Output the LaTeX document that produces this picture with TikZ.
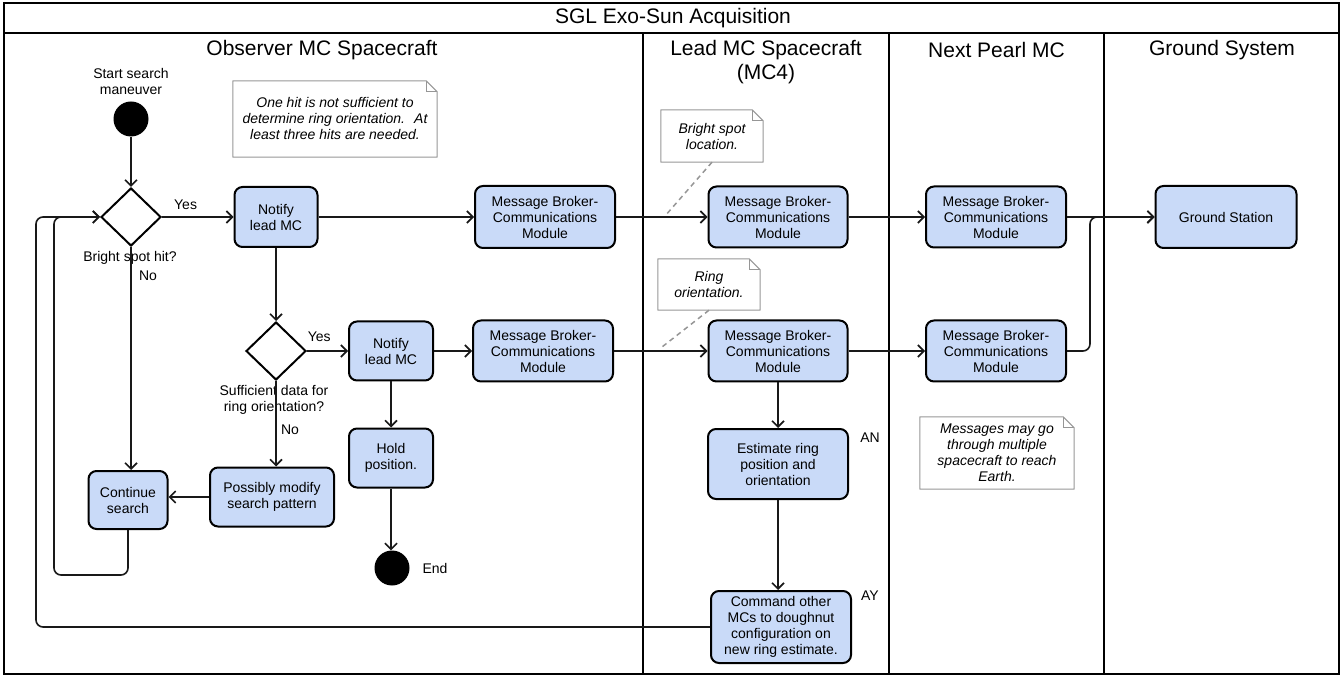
\documentclass[tikz,border=0pt]{standalone}
\usepackage{fontspec}
\setmainfont{Liberation Sans}
\usetikzlibrary{arrows.meta,calc,shapes.geometric}
\definecolor{boxfill}{RGB}{201,218,248}
\definecolor{notegray}{RGB}{150,150,150}
\definecolor{inkline}{RGB}{25,25,25}

\tikzset{
  act/.style={draw=black, line width=2pt, fill=boxfill, rounded corners=8pt,
    align=center, inner sep=0pt, font=\fontsize{14}{16}\selectfont},
  decision/.style={diamond, draw=black, line width=2pt, fill=white,
    minimum width=60pt, minimum height=58pt, inner sep=0pt},
  terminal/.style={circle, fill=black, minimum size=35pt, inner sep=0pt},
  lbl/.style={align=center, inner sep=0pt, font=\fontsize{14}{16}\selectfont},
  hdr/.style={align=center, inner sep=0pt, font=\fontsize{21}{24}\selectfont},
  notebox/.style={align=center, inner sep=0pt, font=\itshape\fontsize{14}{16}\selectfont},
  flow/.style={draw=inkline, line width=1.6pt, -{Straight Barb[length=6pt,width=12pt]}},
  notelink/.style={draw=notegray, line width=1.5pt, dash pattern=on 5pt off 4pt},
  lane/.style={draw=black, line width=1.6pt},
}

% outline of a note with a folded top-right corner
\newcommand\foldnote[1]{%
  \draw[notegray, line width=1pt, line join=round]
    (#1.south west) -- (#1.south east) -- ([yshift=-11pt]#1.north east)
    -- ([xshift=-11pt]#1.north east) -- (#1.north west) -- cycle;
  \draw[notegray, line width=1pt]
    ([xshift=-11pt]#1.north east) -- ([xshift=-11pt,yshift=-11pt]#1.north east)
    -- ([yshift=-11pt]#1.north east);
}

\begin{document}
\begin{tikzpicture}[x=1pt,y=-1pt]
\useasboundingbox (0,0) rectangle (1342,676);

% pool frame, title bar and lanes
\draw[lane] (4,3) rectangle (1339,674);
\draw[lane] (4,33) -- (1339,33);
\draw[lane] (643,33) -- (643,674);
\draw[lane] (889,33) -- (889,674);
\draw[lane] (1104,33) -- (1104,674);

\node[hdr] (title) at (673,18) {SGL Exo-Sun Acquisition};
\node[hdr] (hobs) at (322,50) {Observer MC Spacecraft};
\node[hdr] (hlead) at (766,62) {Lead MC Spacecraft\\(MC4)};
\node[hdr] (hnext) at (996.5,50) {Next Pearl MC};
\node[hdr] (hground) at (1222,50) {Ground System};

% observer spacecraft activities
\node[lbl] (startlbl) at (131,81) {Start search\\maneuver};
\node[terminal] (start) at (131,119) {};
\node[decision] (d1) at (131,217) {};
\node[lbl] (d1q) at (130,258) {Bright spot hit?};
\node[act, minimum width=83pt, minimum height=60pt] (n1) at (276,217) {Notify\\lead MC};
\node[act, minimum width=140pt, minimum height=62pt] (mb1) at (545,217) {Message Broker-\\Communications\\Module};

\node[decision] (d2) at (276,351) {};
\node[lbl] (d2q) at (274,400) {Sufficient data for\\ring orientation?};
\node[act, minimum width=84pt, minimum height=59pt] (n2) at (391,351) {Notify\\lead MC};
\node[act, minimum width=140pt, minimum height=61pt] (mb1b) at (543,351) {Message Broker-\\Communications\\Module};
\node[act, minimum width=84pt, minimum height=59pt] (hold) at (391,458) {Hold\\position.};
\node[terminal] (end) at (392,568) {};
\node[lbl] (endlbl) at (435,568) {End};
\node[act, minimum width=124pt, minimum height=59pt] (pm) at (272,497) {Possibly modify\\search pattern};
\node[act, minimum width=79pt, minimum height=58pt] (cs) at (128,500) {Continue\\search};

% lead spacecraft activities
\node[act, minimum width=139pt, minimum height=61pt] (mb2) at (778,217) {Message Broker-\\Communications\\Module};
\node[act, minimum width=139pt, minimum height=61pt] (mb3) at (778,351) {Message Broker-\\Communications\\Module};
\node[act, minimum width=140pt, minimum height=70pt] (est) at (778,464) {Estimate ring\\position and\\orientation};
\node[act, minimum width=140pt, minimum height=72pt] (cmd) at (781,627) {Command other\\MCs to doughnut\\configuration on\\new ring estimate.};
\node[lbl] (an) at (870,438) {AN};
\node[lbl] (ay) at (870,596) {AY};

% relay and ground
\node[act, minimum width=140pt, minimum height=61pt] (mb4) at (996,217) {Message Broker-\\Communications\\Module};
\node[act, minimum width=140pt, minimum height=61pt] (mb5) at (996,351) {Message Broker-\\Communications\\Module};
\node[act, minimum width=141pt, minimum height=62pt] (gs) at (1226,217) {Ground Station};

% notes
\node[notebox, minimum width=204pt, minimum height=76pt] (note1) at (335,119)
  {One hit is not sufficient to\\determine ring orientation.~ At\\least three hits are needed.};
\foldnote{note1}
\node[notebox, minimum width=102pt, minimum height=52pt] (note2) at (712,136) {Bright spot\\location.};
\foldnote{note2}
\node[notebox, minimum width=102pt, minimum height=51pt] (note3) at (709,284.5) {Ring\\orientation.};
\foldnote{note3}
\node[notebox, minimum width=154pt, minimum height=72pt] (note4) at (997,453)
  {Messages may go\\through multiple\\spacecraft to reach\\Earth.};
\foldnote{note4}

% free ends and bends
\coordinate (e1) at (665,216);
\coordinate (e2) at (662,347);
\coordinate (lp1) at (54,575);
\coordinate (lp2) at (36,627);
\coordinate (gj) at (1090,351);

% connectors
\draw[flow] (start) -- (d1);
\draw[flow] (d1.east) -- (n1.west) node[lbl, pos=0.33, above=7pt] {Yes};
\draw[flow] (n1.east) -- (mb1.west);
\draw[flow] (mb1.east) -- (mb2.west);
\draw[flow] (mb2.east) -- (mb4.west);
\draw[flow] (mb4.east) -- (gs.west);
\draw[flow, rounded corners=7pt] (mb5.east) -- (gj) |- (gs.west);

\draw[flow] (n1.south) -- (d2.north);
\draw[flow] (d2.east) -- (n2.west) node[lbl, pos=0.3, above=9pt] {Yes};
\draw[flow] (n2.east) -- (mb1b.west);
\draw[flow] (mb1b.east) -- (mb3.west);
\draw[flow] (mb3.east) -- (mb5.west);

\draw[flow] (d2.south) -- (d2.south |- pm.north);
\node[lbl] (d2no) at (290,430) {No};
\draw[flow] (d1.south) -- (d1.south |- cs.north);
\node[lbl] (d1no) at (148,276) {No};
\draw[flow] (pm.west) -- (pm.west -| cs.east);
\draw[flow, rounded corners=7pt] (cs.south) |- (lp1) |- (d1.west);
\draw[flow, rounded corners=7pt] (cmd.west) -- (lp2) |- (d1.west);

\draw[flow] (n2.south) -- (hold.north);
\draw[flow] (hold.south) -- (hold.south |- end.north);
\draw[flow] (mb3.south) -- (est.north);
\draw[flow] (est.south) -- (est.south |- cmd.north);

\draw[notelink] (note2.south) -- (e1);
\draw[notelink] (note3.south) -- (e2);
\end{tikzpicture}
\end{document}
